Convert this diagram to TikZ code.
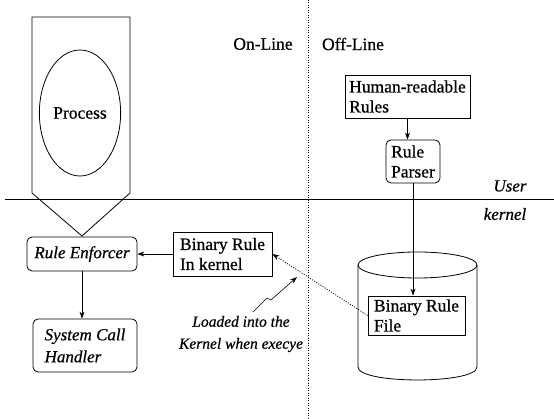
\documentclass[tikz,border=0pt]{standalone}
\usepackage{fontspec}
\setmainfont{Liberation Serif}[Ligatures=TeX]
\newfontfamily\diagfont{Liberation Serif}[Ligatures=TeX, FakeBold=0.6]

\usetikzlibrary{shapes.geometric,arrows.meta}

\begin{document}
\begin{tikzpicture}[x=1pt,y=-1pt,
  line width=0.8pt,
  font=\diagfont\fontsize{17.5}{20}\selectfont,
  every node/.style={inner sep=2pt},
  sqbox/.style={draw, align=left, inner sep=1.5pt},
  rbox/.style={draw, align=left, inner sep=1.5pt, rounded corners=5pt},
  arr/.style={-{Stealth[length=7pt,width=5pt]}},
  divider/.style={line width=0.6pt, dash pattern=on 1pt off 1.5pt},
  note/.style={font=\diagfont\fontsize{15.5}{22}\selectfont\itshape, align=center},
  slanted/.style={font=\diagfont\fontsize{17}{20}\selectfont\itshape}
]
\useasboundingbox (0,0) rectangle (554,419);

% user / kernel boundary and on-line / off-line split
\draw[line width=1pt] (5,200) -- (554,200);
\draw[divider] (308,0) -- (308,419);
\node (online)  at (263,44) {On-Line};
\node (offline) at (353,44) {Off-Line};
\node[slanted] (user)   at (510,186) {User};
\node[slanted] (kernel) at (505,214) {kernel};

% process container and the process itself
\draw (32,17) -- (130,17) -- (130,193) -- (82,236) -- (32,193) -- cycle;
\node[draw, ellipse, minimum width=76pt, minimum height=126pt] (process) at (80,113) {Process};

% kernel-side components
\node[rbox, slanted, minimum width=110pt, minimum height=34pt, align=center]
  (enforcer) at (82,254) {Rule Enforcer};
\node[sqbox, minimum width=99pt, minimum height=44pt] (kern) at (222.5,254) {Binary Rule\\In kernel};
\node[rbox, font=\diagfont\fontsize{17}{22}\selectfont\itshape, minimum width=104pt, minimum height=53pt]
  (syscall) at (85,345.5) {System Call\\Handler};

% off-line rule compilation
\node[sqbox, minimum width=125pt, minimum height=43pt] (human) at (407.5,96.5) {Human-readable\\Rules};
\node[rbox, minimum width=54pt, minimum height=43pt] (parser) at (413,161.5) {Rule\\Parser};

% rule file storage
\draw (417.5,265) ellipse [x radius=59.5, y radius=13];
\draw (358,265) -- (358,367) .. controls (358,384.3) and (477,384.3) .. (477,367) -- (477,265);
\node[sqbox, fill=white, minimum width=97pt, minimum height=39pt, inner sep=1pt] (file) at (416.5,315.5) {Binary Rule\\File};

% connectors
\draw[arr] (human.south) -- (human.south |- parser.north);
\draw[arr] (parser.south) -- (parser.south |- file.north);
\draw[arr] (kern.west) -- (enforcer.east);
\draw[arr] (enforcer.south) -- (enforcer.south |- syscall.north);
\draw[arr, dash pattern=on 1pt off 1.5pt] (file.west) -- (kern.east);

% loading annotation
\node[note] (loaded) at (241,334) {Loaded into the\\Kernel when execye};
\coordinate (loadtip) at (297,277);
\draw[arr, line width=0.6pt] (253,312) .. controls (261,304) .. (267,298) -- (271,300) -- (loadtip);
\end{tikzpicture}
\end{document}
